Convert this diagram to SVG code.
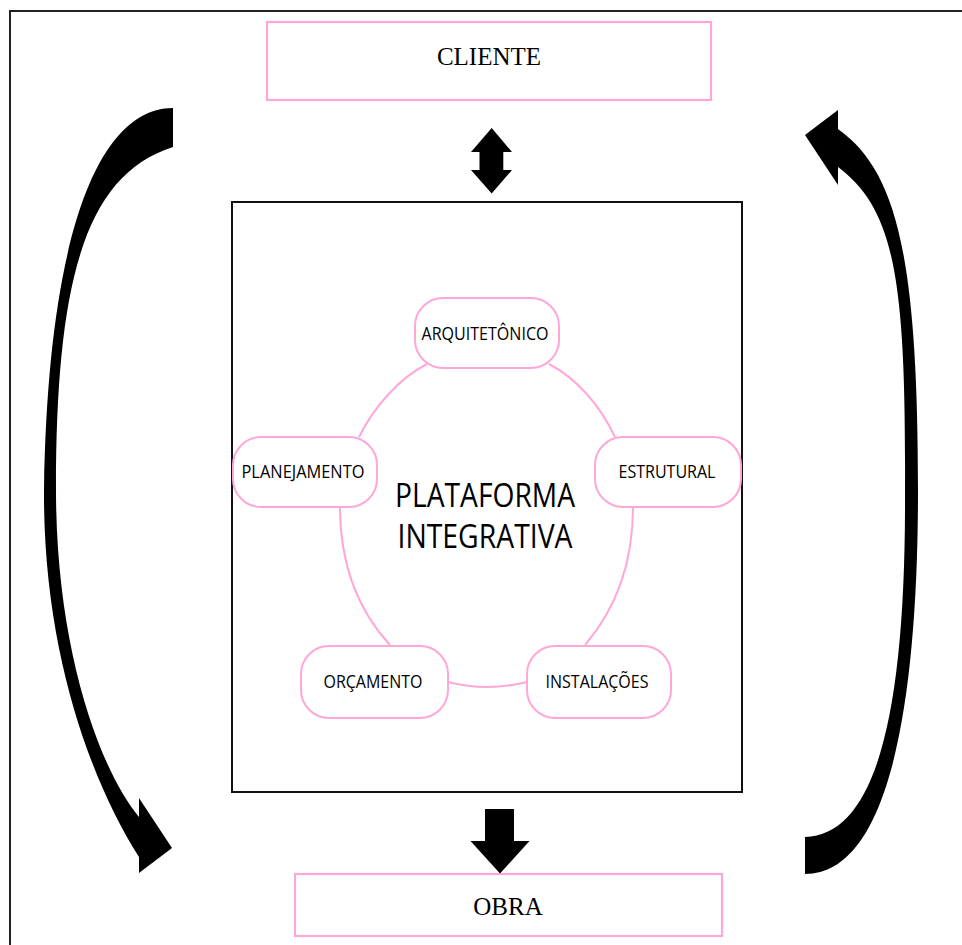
<svg xmlns="http://www.w3.org/2000/svg" width="962" height="945" viewBox="0 0 962 945">
<style>
.pinkbox{fill:#fff;stroke:#ffa8d8;stroke-width:2.2}
.node{fill:#fff;stroke:#ffa8d8;stroke-width:2}
.ring{fill:none;stroke:#ffa8d8;stroke-width:2}
.serif{font-family:"Liberation Serif","Times New Roman",serif;font-size:25px;fill:#000;text-anchor:middle}
.lbl{font-family:"Open Sans","Noto Sans",sans-serif;font-size:18px;fill:#000;text-anchor:middle}
.big{font-family:"Open Sans","Noto Sans",sans-serif;font-size:32px;fill:#000;text-anchor:middle}
.blk{fill:#000;stroke:none}
</style>
<rect width="962" height="945" fill="#fff"/>
<g id="frame">
<line x1="10" y1="11" x2="962" y2="11" stroke="#222" stroke-width="2"/>
<line x1="10" y1="10" x2="10" y2="945" stroke="#222" stroke-width="2"/>
</g>
<g id="cliente">
<rect class="pinkbox" x="267" y="22" width="444" height="78"/>
<text class="serif" x="489" y="65">CLIENTE</text>
</g>
<g id="obra">
<rect class="pinkbox" x="295" y="874" width="427" height="62"/>
<text class="serif" x="508" y="915">OBRA</text>
</g>
<g id="plataforma">
<rect x="232" y="202" width="510" height="590" fill="#fff" stroke="#111" stroke-width="2"/>
</g>
<g id="connectors">
<path class="ring" d="M427,364 C400,378 375,405 359,437"/>
<path class="ring" d="M549,364 C576,378 600,405 615,437"/>
<path class="ring" d="M633,507 C633,565 615,610 585,645"/>
<path class="ring" d="M340,507 C340,565 358,610 390,645"/>
<path class="ring" d="M448,682 Q487,692 527,682"/>
<path class="blk" d="M491.7,128 L512,152 L503.3,152 L503.3,170 L512,170 L491.7,193.5 L471,170 L479.5,170 L479.5,152 L471,152 Z"/>
<path class="blk" d="M485,809 L514,809 L514,841 L529.5,841 L500,873.5 L470.5,841 L485,841 Z"/>
<path class="blk" d="M173,108 C100,108 48,230 44,490 C43,650 90,780 139,857 L139,873 L172,848 L139,798 L139,817 C100,770 56,650 56,490 C56,280 85,175 173,147 Z"/>
<path class="blk" d="M805,874 C895,874 918,680 918,490 C918,250 895,170 838,129 L838,110 L805,135 L838,185 L838,167 C895,210 906,280 905,490 C906,700 880,835 805,837 Z"/>
</g>
<g id="center-label">
<text class="big" x="485" y="507" textLength="180" lengthAdjust="spacingAndGlyphs">PLATAFORMA</text>
<text class="big" x="485" y="548" textLength="175" lengthAdjust="spacingAndGlyphs">INTEGRATIVA</text>
</g>
<g id="arquitetonico">
<rect class="node" x="415" y="298" width="144" height="70" rx="28"/>
<text class="lbl" x="485" y="340" textLength="127" lengthAdjust="spacingAndGlyphs">ARQUITETÔNICO</text>
</g>
<g id="planejamento">
<rect class="node" x="233" y="437" width="144" height="70" rx="28"/>
<text class="lbl" x="303" y="478" textLength="123" lengthAdjust="spacingAndGlyphs">PLANEJAMENTO</text>
</g>
<g id="estrutural">
<rect class="node" x="595" y="437" width="146" height="70" rx="28"/>
<text class="lbl" x="667" y="478" textLength="97" lengthAdjust="spacingAndGlyphs">ESTRUTURAL</text>
</g>
<g id="orcamento">
<rect class="node" x="301" y="646" width="147" height="72" rx="28"/>
<text class="lbl" x="373" y="688" textLength="99" lengthAdjust="spacingAndGlyphs">ORÇAMENTO</text>
</g>
<g id="instalacoes">
<rect class="node" x="527" y="646" width="144" height="72" rx="28"/>
<text class="lbl" x="597" y="688" textLength="103" lengthAdjust="spacingAndGlyphs">INSTALAÇÕES</text>
</g>
</svg>
